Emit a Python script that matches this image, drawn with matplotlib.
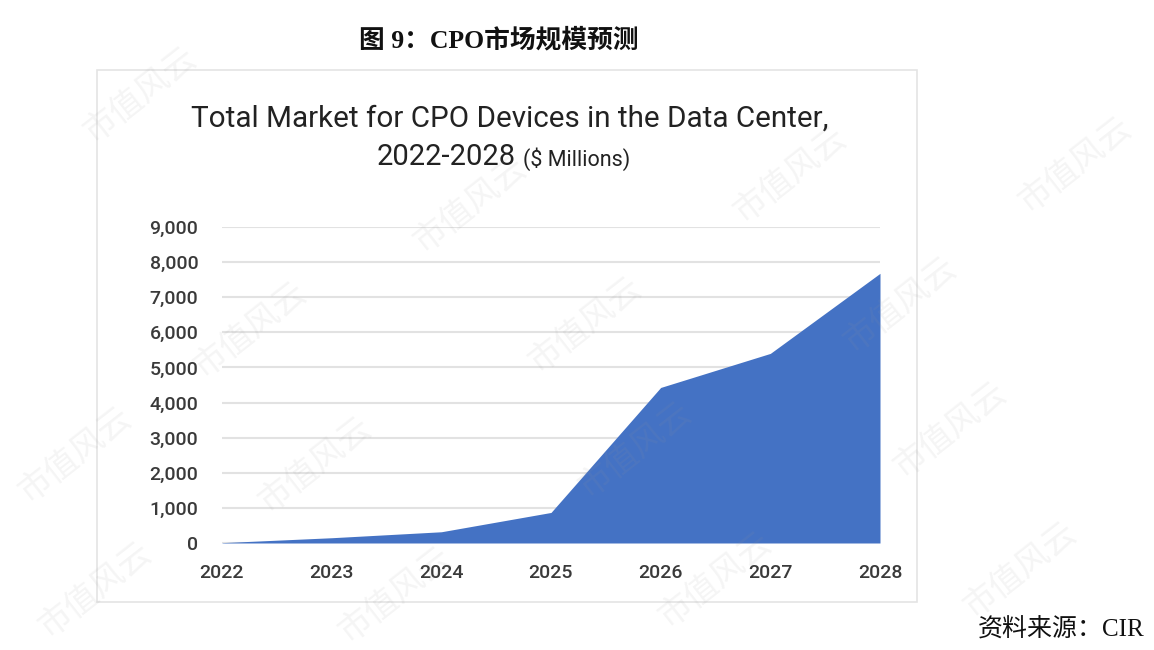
import matplotlib
matplotlib.use("Agg")
import matplotlib.pyplot as plt
from matplotlib.patches import Rectangle
from matplotlib.ticker import FuncFormatter

# 数据
years = [2022, 2023, 2024, 2025, 2026, 2027, 2028]
market = [10, 150, 320, 870, 4430, 5400, 7680]  # $ Millions
y_ticks = [0, 1000, 2000, 3000, 4000, 5000, 6000, 7000, 8000, 9000]

caption = "图 9：CPO市场规模预测"
source = "资料来源：CIR"
title_1 = "Total Market for CPO Devices in the Data Center,"
title_2 = "2022-2028"
title_unit = "($ Millions)"
watermark = "市值风云"

blue = "#4472C4"
W, H = 1154, 650

fig = plt.figure(figsize=(W / 100, H / 100), dpi=100)
fig.patch.set_facecolor("white")

# 图片边框
fig.patches.append(Rectangle((97 / W, 1 - 602 / H), 820 / W, 532 / H,
                             transform=fig.transFigure, fill=False,
                             edgecolor="#e4e4e4", linewidth=1.2))

ax = fig.add_axes([222 / W, 1 - 543 / H, 658 / W, 316 / H])
ax.fill_between(years, market, 0, color=blue, linewidth=0, zorder=3)
ax.set_xlim(years[0], years[-1])
ax.set_ylim(0, 9000)
ax.set_xticks(years)
ax.set_yticks(y_ticks)
ax.yaxis.set_major_formatter(FuncFormatter(lambda v, p: f"{int(v):,}"))
ax.grid(axis="y", color="#e2e2e2", linewidth=1.5, zorder=1)
ax.grid(axis="x", visible=False)
for s in ax.spines.values():
    s.set_visible(False)
ax.tick_params(length=0, labelsize=14, labelcolor="#3a3a3a")
ax.tick_params(axis="y", pad=17)
ax.tick_params(axis="x", pad=15)
for lab in ax.get_xticklabels() + ax.get_yticklabels():
    lab.set_fontfamily("Roboto")
    lab.set_fontweight("medium")

# 标题
fig.text(510 / W, 1 - 119 / H, title_1, ha="center", va="center",
         fontsize=21.3, family="Roboto", color="#222222")
fig.text(516 / W, 1 - 157 / H, title_2, ha="right", va="center",
         fontsize=21, family="Roboto", color="#222222")
fig.text(523 / W, 1 - 159 / H, title_unit, ha="left", va="center",
         fontsize=15.5, family="Roboto", color="#222222")

# 图题与来源
fig.text(499 / W, 1 - 40 / H, caption, ha="center", va="center",
         fontsize=18.5, fontweight="bold", color="#111111",
         family=["Liberation Serif", "Noto Sans CJK SC"])
fig.text(1145 / W, 1 - 630 / H, source, ha="right", va="center",
         fontsize=18, color="#111111",
         family=["Liberation Serif", "Noto Sans CJK SC"])

# 水印
wm_pos = [(140, 95), (470, 205), (790, 175), (1075, 165),
          (250, 330), (585, 325), (900, 305),
          (75, 455), (315, 465), (635, 450), (950, 430),
          (95, 590), (395, 595), (715, 580), (1020, 570)]
for x, y in wm_pos:
    fig.text(x / W, 1 - y / H, watermark, ha="center", va="center",
             rotation=38, fontsize=24, color="#9a9a9a", alpha=0.1,
             family=["Noto Sans CJK SC"], zorder=10)

fig.savefig("out.png", dpi=100)
